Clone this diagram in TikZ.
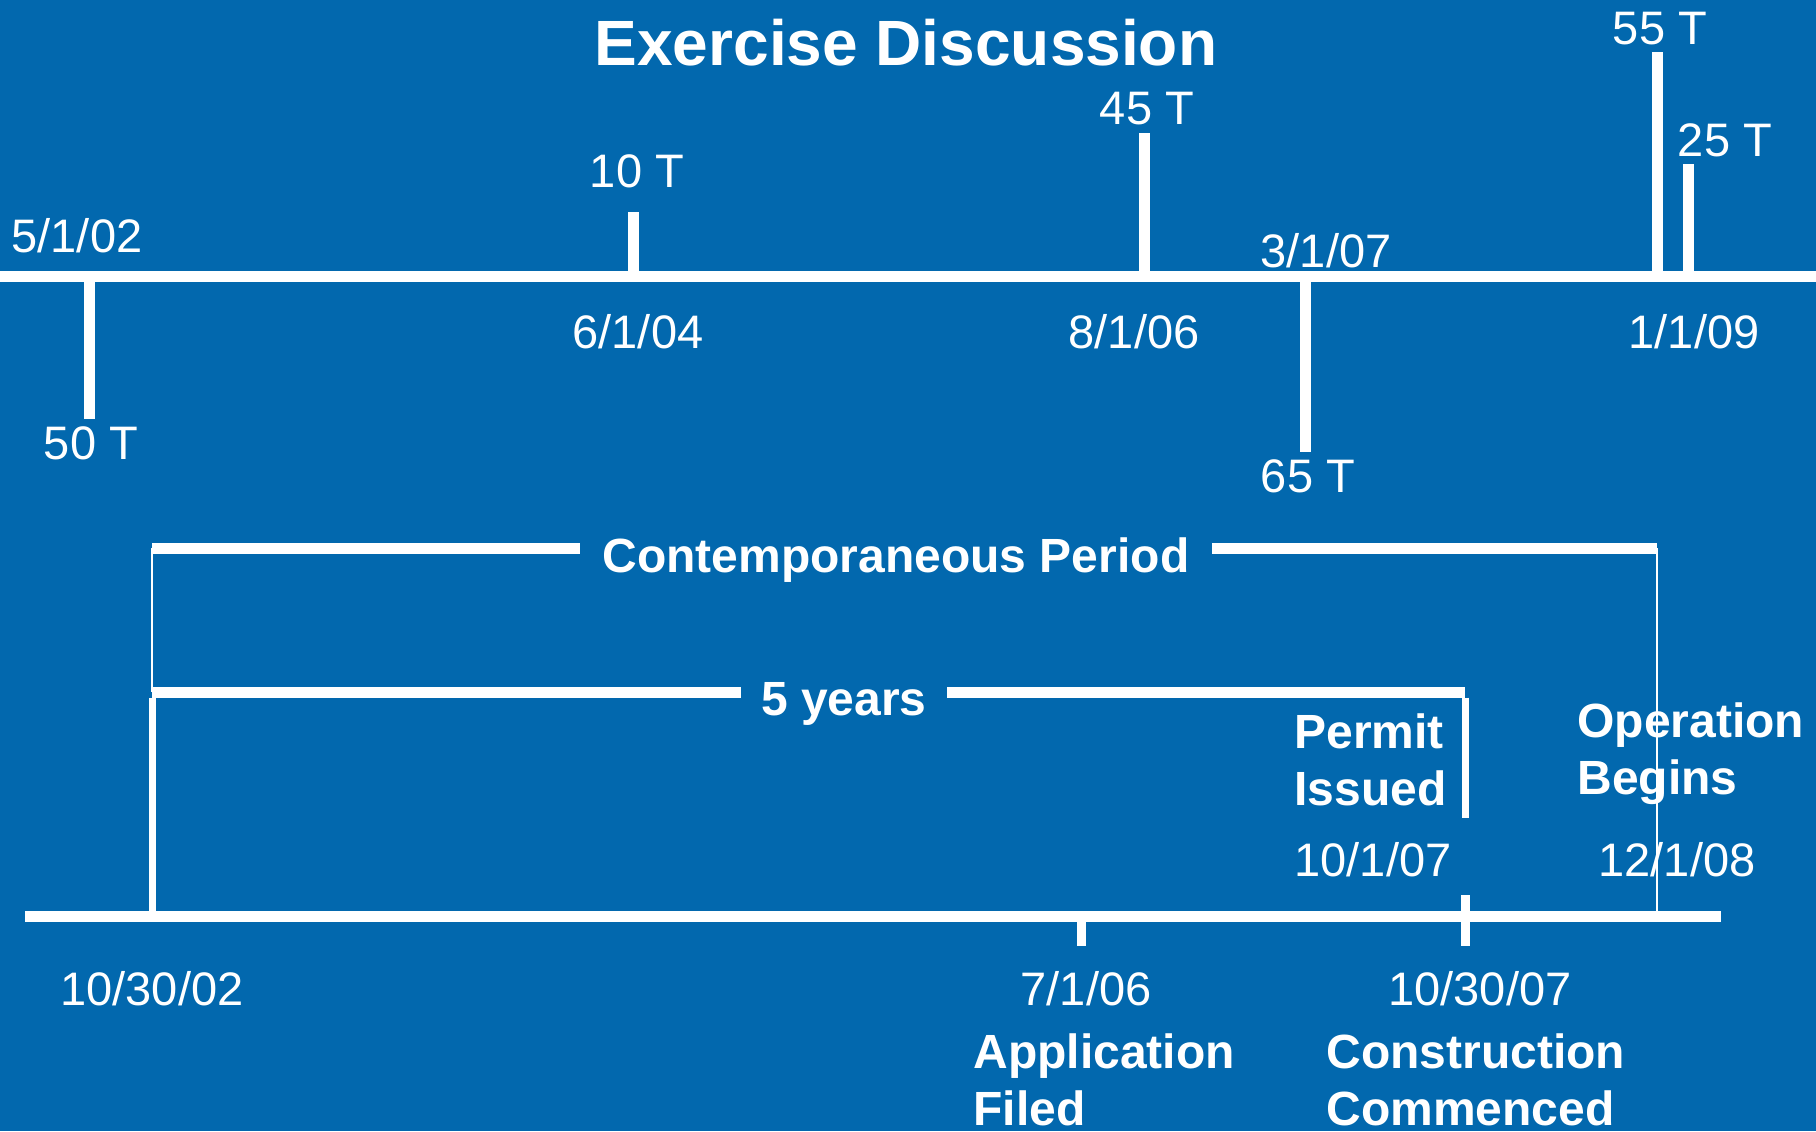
\documentclass[tikz,border=0pt]{standalone}
\usepackage{fontspec}
\setmainfont{Liberation Sans}
\usetikzlibrary{positioning}
\definecolor{slideblue}{RGB}{2,104,174}

\begin{document}
\begin{tikzpicture}[x=0.5pt, y=-0.5pt]
\tikzstyle{every node}=[text=white,  inner sep=0pt,  font=\fontsize{23.5}{28.5}\selectfont]
\tikzstyle{bar}=[white,  line width=5.5pt]
\tikzstyle{post}=[white,  line width=3.5pt]
\tikzstyle{hair}=[white,  line width=1pt]
\tikzstyle{heading}=[font=\fontsize{24}{28.5}\selectfont\bfseries]
\tikzstyle{note}=[heading,  align=left,  anchor=north west]
\fill[slideblue] (0,0) rectangle (1816,1131);
\useasboundingbox (0,0) rectangle (1816,1131);

\node[font=\fontsize{32}{38}\selectfont\bfseries,  anchor=base] (title) at (906,65) {Exercise Discussion};

\coordinate (tl) at (0,276);		\coordinate (tr) at (1816,276);
\coordinate (a1) at (89,276);		\coordinate (e1) at (89,419);
\coordinate (a2) at (633,276);	\coordinate (e2) at (633,212);
\coordinate (a3) at (1144,276);	\coordinate (e3) at (1144,133);
\coordinate (a4) at (1305,276);	\coordinate (e4) at (1305,452);
\coordinate (a5) at (1657,276);	\coordinate (e5) at (1657,52);
\coordinate (a6) at (1688,276);	\coordinate (e6) at (1688,164);
\draw[bar]
(tl) -- (tr)
(a1) -- (e1)
(a2) -- (e2)
(a3) -- (e3)
(a4) -- (e4)
(a5) -- (e5)
(a6) -- (e6);

\node[anchor=base] (d1) at (77,252) {5/1/02};
\node[anchor=base] (w1) at (91,459) {50 T};
\node[anchor=base] (w2) at (637,187) {10 T};
\node[anchor=base] (d2) at (638,348) {6/1/04};
\node[anchor=base] (w3) at (1147,124) {45 T};
\node[anchor=base] (d3) at (1134,348) {8/1/06};
\node[anchor=base] (d4) at (1326,267) {3/1/07};
\node[anchor=base] (w4) at (1308,492) {65 T};
\node[anchor=base] (w5) at (1660,44) {55 T};
\node[anchor=base] (w6) at (1725,156) {25 T};
\node[anchor=base] (d5) at (1694,348) {1/1/09};

\coordinate (bl) at (25,916);		\coordinate (br) at (1721,916);
\coordinate (b1) at (152,916);	\coordinate (b2) at (1081,916);
\coordinate (b3) at (1465,916);	\coordinate (b4) at (1657,916);
\draw[bar] (bl) -- (br);
\draw[white,  line width=4.5pt]
(b2) -- ++(0,30)
(b3) ++(0,-21) -- ++(0,51);

\node[heading,  anchor=base,  inner xsep=11pt] (cp) at (896,572) {Contemporaneous Period};
\coordinate (cpl) at (152,548);	\coordinate (cpr) at (1657,548);
\draw[bar] (cpl) -- (cpl -| cp.west);
\draw[bar] (cp.east |- cpr) -- (cpr);
\draw[hair] (cpl) -- (152,692);
\draw[hair] (cpr) -- (b4);

\node[heading,  anchor=base,  inner xsep=10pt] (fy) at (844,715) {5 years};
\coordinate (fyl) at (152,692);	\coordinate (fyr) at (1465,692);
\draw[bar] (fyl) -- (fyl -| fy.west);
\draw[bar] (fy.east |- fyr) -- (fyr);
\draw[post] (b1) -- ([yshift=-2.75pt]fyl);
\draw[post] ([yshift=-2.75pt]fyr) -- (1465,818);

\node[note] (pi) at (1294,713) {Permit\\Issued};
\node[note] (ob) at (1577,702) {Operation\\Begins};
\node[anchor=base] (d6) at (1373,876) {10/1/07};
\node[anchor=base] (d7) at (1677,876) {12/1/08};

\node[anchor=base] (d8) at (152,1005) {10/30/02};
\node[anchor=base] (d9) at (1086,1005) {7/1/06};
\node[anchor=base] (d10) at (1480,1005) {10/30/07};
\node[note] (af) at (973,1033) {Application\\Filed};
\node[note] (cc) at (1326,1033) {Construction\\Commenced};
\end{tikzpicture}
\end{document}
